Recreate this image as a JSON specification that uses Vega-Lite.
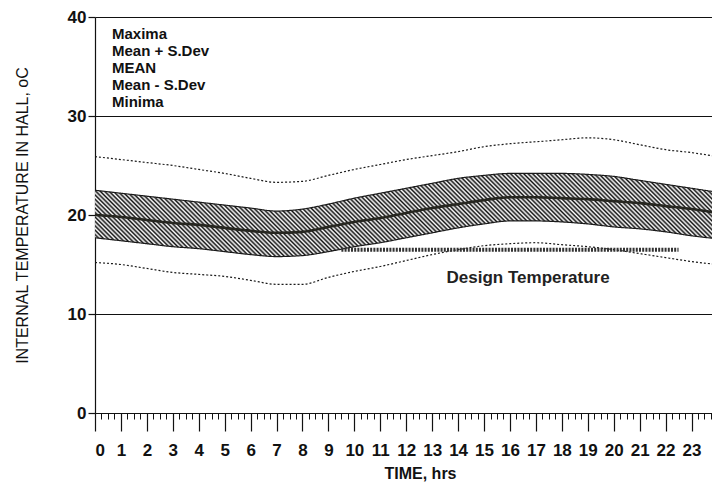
{
  "$schema": "https://vega.github.io/schema/vega-lite/v6.json",
  "width": 617,
  "height": 396,
  "autosize": {"type": "none"},
  "padding": {"left": 95, "top": 17, "right": 0, "bottom": 80},
  "background": "white",
  "config": {
    "font": "Liberation Sans",
    "view": {"stroke": null},
    "axis": {"domainColor": "#111", "tickColor": "#111", "labelColor": "#111", "titleColor": "#111"}
  },
  "datasets": {
    "temps": [
      {"hour": 0, "max": 25.9, "sdp": 22.5, "mean": 20.0, "sdm": 17.7, "min": 15.2},
      {"hour": 1, "max": 25.6, "sdp": 22.2, "mean": 19.8, "sdm": 17.4, "min": 15.0},
      {"hour": 2, "max": 25.3, "sdp": 21.9, "mean": 19.5, "sdm": 17.1, "min": 14.6},
      {"hour": 3, "max": 25.0, "sdp": 21.6, "mean": 19.2, "sdm": 16.8, "min": 14.2},
      {"hour": 4, "max": 24.6, "sdp": 21.3, "mean": 19.0, "sdm": 16.6, "min": 14.0},
      {"hour": 5, "max": 24.2, "sdp": 21.0, "mean": 18.7, "sdm": 16.3, "min": 13.8},
      {"hour": 6, "max": 23.7, "sdp": 20.7, "mean": 18.4, "sdm": 16.0, "min": 13.4},
      {"hour": 7, "max": 23.3, "sdp": 20.4, "mean": 18.2, "sdm": 15.8, "min": 13.0},
      {"hour": 8, "max": 23.4, "sdp": 20.6, "mean": 18.3, "sdm": 15.9, "min": 13.0},
      {"hour": 9, "max": 24.0, "sdp": 21.1, "mean": 18.8, "sdm": 16.3, "min": 13.7},
      {"hour": 10, "max": 24.6, "sdp": 21.7, "mean": 19.3, "sdm": 16.8, "min": 14.3},
      {"hour": 11, "max": 25.1, "sdp": 22.2, "mean": 19.7, "sdm": 17.2, "min": 14.8},
      {"hour": 12, "max": 25.6, "sdp": 22.7, "mean": 20.2, "sdm": 17.7, "min": 15.4},
      {"hour": 13, "max": 26.0, "sdp": 23.2, "mean": 20.7, "sdm": 18.2, "min": 16.0},
      {"hour": 14, "max": 26.4, "sdp": 23.7, "mean": 21.1, "sdm": 18.7, "min": 16.5},
      {"hour": 15, "max": 26.9, "sdp": 24.0, "mean": 21.5, "sdm": 19.1, "min": 16.9},
      {"hour": 16, "max": 27.2, "sdp": 24.2, "mean": 21.8, "sdm": 19.4, "min": 17.1},
      {"hour": 17, "max": 27.4, "sdp": 24.2, "mean": 21.8, "sdm": 19.4, "min": 17.2},
      {"hour": 18, "max": 27.6, "sdp": 24.2, "mean": 21.7, "sdm": 19.3, "min": 17.0},
      {"hour": 19, "max": 27.8, "sdp": 24.1, "mean": 21.6, "sdm": 19.1, "min": 16.8},
      {"hour": 20, "max": 27.6, "sdp": 23.9, "mean": 21.4, "sdm": 18.8, "min": 16.5},
      {"hour": 21, "max": 27.1, "sdp": 23.5, "mean": 21.2, "sdm": 18.6, "min": 16.1},
      {"hour": 22, "max": 26.6, "sdp": 23.1, "mean": 20.9, "sdm": 18.3, "min": 15.7},
      {"hour": 23, "max": 26.3, "sdp": 22.7, "mean": 20.6, "sdm": 17.9, "min": 15.3},
      {"hour": 24, "max": 25.9, "sdp": 22.3, "mean": 20.2, "sdm": 17.6, "min": 15.0}
    ],
    "design": [
      {"hour": 9.5, "temp": 16.5},
      {"hour": 22.5, "temp": 16.5}
    ]
  },
  "resolve": {"axis": {"x": "independent"}},
  "layer": [
    {
      "data": {"name": "temps"},
      "mark": {
        "type": "area", "clip": true, "interpolate": "monotone",
        "fill": {
          "gradient": "linear", "x1": 0, "y1": 1, "x2": 1.1137, "y2": 0.8512,
          "stops": [
            {"offset":0,"color":"#111"},{"offset":0.003125,"color":"#fff"},{"offset":0.00625,"color":"#111"},{"offset":0.009375,"color":"#fff"},{"offset":0.0125,"color":"#111"},{"offset":0.015625,"color":"#fff"},{"offset":0.01875,"color":"#111"},{"offset":0.021875,"color":"#fff"},{"offset":0.025,"color":"#111"},{"offset":0.028125,"color":"#fff"},{"offset":0.03125,"color":"#111"},{"offset":0.034375,"color":"#fff"},{"offset":0.0375,"color":"#111"},{"offset":0.040625,"color":"#fff"},{"offset":0.04375,"color":"#111"},{"offset":0.046875,"color":"#fff"},
            {"offset":0.05,"color":"#111"},{"offset":0.053125,"color":"#fff"},{"offset":0.05625,"color":"#111"},{"offset":0.059375,"color":"#fff"},{"offset":0.0625,"color":"#111"},{"offset":0.065625,"color":"#fff"},{"offset":0.06875,"color":"#111"},{"offset":0.071875,"color":"#fff"},{"offset":0.075,"color":"#111"},{"offset":0.078125,"color":"#fff"},{"offset":0.08125,"color":"#111"},{"offset":0.084375,"color":"#fff"},{"offset":0.0875,"color":"#111"},{"offset":0.090625,"color":"#fff"},{"offset":0.09375,"color":"#111"},{"offset":0.096875,"color":"#fff"},
            {"offset":0.1,"color":"#111"},{"offset":0.103125,"color":"#fff"},{"offset":0.10625,"color":"#111"},{"offset":0.109375,"color":"#fff"},{"offset":0.1125,"color":"#111"},{"offset":0.115625,"color":"#fff"},{"offset":0.11875,"color":"#111"},{"offset":0.121875,"color":"#fff"},{"offset":0.125,"color":"#111"},{"offset":0.128125,"color":"#fff"},{"offset":0.13125,"color":"#111"},{"offset":0.134375,"color":"#fff"},{"offset":0.1375,"color":"#111"},{"offset":0.140625,"color":"#fff"},{"offset":0.14375,"color":"#111"},{"offset":0.146875,"color":"#fff"},
            {"offset":0.15,"color":"#111"},{"offset":0.153125,"color":"#fff"},{"offset":0.15625,"color":"#111"},{"offset":0.159375,"color":"#fff"},{"offset":0.1625,"color":"#111"},{"offset":0.165625,"color":"#fff"},{"offset":0.16875,"color":"#111"},{"offset":0.171875,"color":"#fff"},{"offset":0.175,"color":"#111"},{"offset":0.178125,"color":"#fff"},{"offset":0.18125,"color":"#111"},{"offset":0.184375,"color":"#fff"},{"offset":0.1875,"color":"#111"},{"offset":0.190625,"color":"#fff"},{"offset":0.19375,"color":"#111"},{"offset":0.196875,"color":"#fff"},
            {"offset":0.2,"color":"#111"},{"offset":0.203125,"color":"#fff"},{"offset":0.20625,"color":"#111"},{"offset":0.209375,"color":"#fff"},{"offset":0.2125,"color":"#111"},{"offset":0.215625,"color":"#fff"},{"offset":0.21875,"color":"#111"},{"offset":0.221875,"color":"#fff"},{"offset":0.225,"color":"#111"},{"offset":0.228125,"color":"#fff"},{"offset":0.23125,"color":"#111"},{"offset":0.234375,"color":"#fff"},{"offset":0.2375,"color":"#111"},{"offset":0.240625,"color":"#fff"},{"offset":0.24375,"color":"#111"},{"offset":0.246875,"color":"#fff"},
            {"offset":0.25,"color":"#111"},{"offset":0.253125,"color":"#fff"},{"offset":0.25625,"color":"#111"},{"offset":0.259375,"color":"#fff"},{"offset":0.2625,"color":"#111"},{"offset":0.265625,"color":"#fff"},{"offset":0.26875,"color":"#111"},{"offset":0.271875,"color":"#fff"},{"offset":0.275,"color":"#111"},{"offset":0.278125,"color":"#fff"},{"offset":0.28125,"color":"#111"},{"offset":0.284375,"color":"#fff"},{"offset":0.2875,"color":"#111"},{"offset":0.290625,"color":"#fff"},{"offset":0.29375,"color":"#111"},{"offset":0.296875,"color":"#fff"},
            {"offset":0.3,"color":"#111"},{"offset":0.303125,"color":"#fff"},{"offset":0.30625,"color":"#111"},{"offset":0.309375,"color":"#fff"},{"offset":0.3125,"color":"#111"},{"offset":0.315625,"color":"#fff"},{"offset":0.31875,"color":"#111"},{"offset":0.321875,"color":"#fff"},{"offset":0.325,"color":"#111"},{"offset":0.328125,"color":"#fff"},{"offset":0.33125,"color":"#111"},{"offset":0.334375,"color":"#fff"},{"offset":0.3375,"color":"#111"},{"offset":0.340625,"color":"#fff"},{"offset":0.34375,"color":"#111"},{"offset":0.346875,"color":"#fff"},
            {"offset":0.35,"color":"#111"},{"offset":0.353125,"color":"#fff"},{"offset":0.35625,"color":"#111"},{"offset":0.359375,"color":"#fff"},{"offset":0.3625,"color":"#111"},{"offset":0.365625,"color":"#fff"},{"offset":0.36875,"color":"#111"},{"offset":0.371875,"color":"#fff"},{"offset":0.375,"color":"#111"},{"offset":0.378125,"color":"#fff"},{"offset":0.38125,"color":"#111"},{"offset":0.384375,"color":"#fff"},{"offset":0.3875,"color":"#111"},{"offset":0.390625,"color":"#fff"},{"offset":0.39375,"color":"#111"},{"offset":0.396875,"color":"#fff"},
            {"offset":0.4,"color":"#111"},{"offset":0.403125,"color":"#fff"},{"offset":0.40625,"color":"#111"},{"offset":0.409375,"color":"#fff"},{"offset":0.4125,"color":"#111"},{"offset":0.415625,"color":"#fff"},{"offset":0.41875,"color":"#111"},{"offset":0.421875,"color":"#fff"},{"offset":0.425,"color":"#111"},{"offset":0.428125,"color":"#fff"},{"offset":0.43125,"color":"#111"},{"offset":0.434375,"color":"#fff"},{"offset":0.4375,"color":"#111"},{"offset":0.440625,"color":"#fff"},{"offset":0.44375,"color":"#111"},{"offset":0.446875,"color":"#fff"},
            {"offset":0.45,"color":"#111"},{"offset":0.453125,"color":"#fff"},{"offset":0.45625,"color":"#111"},{"offset":0.459375,"color":"#fff"},{"offset":0.4625,"color":"#111"},{"offset":0.465625,"color":"#fff"},{"offset":0.46875,"color":"#111"},{"offset":0.471875,"color":"#fff"},{"offset":0.475,"color":"#111"},{"offset":0.478125,"color":"#fff"},{"offset":0.48125,"color":"#111"},{"offset":0.484375,"color":"#fff"},{"offset":0.4875,"color":"#111"},{"offset":0.490625,"color":"#fff"},{"offset":0.49375,"color":"#111"},{"offset":0.496875,"color":"#fff"},
            {"offset":0.5,"color":"#111"},{"offset":0.503125,"color":"#fff"},{"offset":0.50625,"color":"#111"},{"offset":0.509375,"color":"#fff"},{"offset":0.5125,"color":"#111"},{"offset":0.515625,"color":"#fff"},{"offset":0.51875,"color":"#111"},{"offset":0.521875,"color":"#fff"},{"offset":0.525,"color":"#111"},{"offset":0.528125,"color":"#fff"},{"offset":0.53125,"color":"#111"},{"offset":0.534375,"color":"#fff"},{"offset":0.5375,"color":"#111"},{"offset":0.540625,"color":"#fff"},{"offset":0.54375,"color":"#111"},{"offset":0.546875,"color":"#fff"},
            {"offset":0.55,"color":"#111"},{"offset":0.553125,"color":"#fff"},{"offset":0.55625,"color":"#111"},{"offset":0.559375,"color":"#fff"},{"offset":0.5625,"color":"#111"},{"offset":0.565625,"color":"#fff"},{"offset":0.56875,"color":"#111"},{"offset":0.571875,"color":"#fff"},{"offset":0.575,"color":"#111"},{"offset":0.578125,"color":"#fff"},{"offset":0.58125,"color":"#111"},{"offset":0.584375,"color":"#fff"},{"offset":0.5875,"color":"#111"},{"offset":0.590625,"color":"#fff"},{"offset":0.59375,"color":"#111"},{"offset":0.596875,"color":"#fff"},
            {"offset":0.6,"color":"#111"},{"offset":0.603125,"color":"#fff"},{"offset":0.60625,"color":"#111"},{"offset":0.609375,"color":"#fff"},{"offset":0.6125,"color":"#111"},{"offset":0.615625,"color":"#fff"},{"offset":0.61875,"color":"#111"},{"offset":0.621875,"color":"#fff"},{"offset":0.625,"color":"#111"},{"offset":0.628125,"color":"#fff"},{"offset":0.63125,"color":"#111"},{"offset":0.634375,"color":"#fff"},{"offset":0.6375,"color":"#111"},{"offset":0.640625,"color":"#fff"},{"offset":0.64375,"color":"#111"},{"offset":0.646875,"color":"#fff"},
            {"offset":0.65,"color":"#111"},{"offset":0.653125,"color":"#fff"},{"offset":0.65625,"color":"#111"},{"offset":0.659375,"color":"#fff"},{"offset":0.6625,"color":"#111"},{"offset":0.665625,"color":"#fff"},{"offset":0.66875,"color":"#111"},{"offset":0.671875,"color":"#fff"},{"offset":0.675,"color":"#111"},{"offset":0.678125,"color":"#fff"},{"offset":0.68125,"color":"#111"},{"offset":0.684375,"color":"#fff"},{"offset":0.6875,"color":"#111"},{"offset":0.690625,"color":"#fff"},{"offset":0.69375,"color":"#111"},{"offset":0.696875,"color":"#fff"},
            {"offset":0.7,"color":"#111"},{"offset":0.703125,"color":"#fff"},{"offset":0.70625,"color":"#111"},{"offset":0.709375,"color":"#fff"},{"offset":0.7125,"color":"#111"},{"offset":0.715625,"color":"#fff"},{"offset":0.71875,"color":"#111"},{"offset":0.721875,"color":"#fff"},{"offset":0.725,"color":"#111"},{"offset":0.728125,"color":"#fff"},{"offset":0.73125,"color":"#111"},{"offset":0.734375,"color":"#fff"},{"offset":0.7375,"color":"#111"},{"offset":0.740625,"color":"#fff"},{"offset":0.74375,"color":"#111"},{"offset":0.746875,"color":"#fff"},
            {"offset":0.75,"color":"#111"},{"offset":0.753125,"color":"#fff"},{"offset":0.75625,"color":"#111"},{"offset":0.759375,"color":"#fff"},{"offset":0.7625,"color":"#111"},{"offset":0.765625,"color":"#fff"},{"offset":0.76875,"color":"#111"},{"offset":0.771875,"color":"#fff"},{"offset":0.775,"color":"#111"},{"offset":0.778125,"color":"#fff"},{"offset":0.78125,"color":"#111"},{"offset":0.784375,"color":"#fff"},{"offset":0.7875,"color":"#111"},{"offset":0.790625,"color":"#fff"},{"offset":0.79375,"color":"#111"},{"offset":0.796875,"color":"#fff"},
            {"offset":0.8,"color":"#111"},{"offset":0.803125,"color":"#fff"},{"offset":0.80625,"color":"#111"},{"offset":0.809375,"color":"#fff"},{"offset":0.8125,"color":"#111"},{"offset":0.815625,"color":"#fff"},{"offset":0.81875,"color":"#111"},{"offset":0.821875,"color":"#fff"},{"offset":0.825,"color":"#111"},{"offset":0.828125,"color":"#fff"},{"offset":0.83125,"color":"#111"},{"offset":0.834375,"color":"#fff"},{"offset":0.8375,"color":"#111"},{"offset":0.840625,"color":"#fff"},{"offset":0.84375,"color":"#111"},{"offset":0.846875,"color":"#fff"},
            {"offset":0.85,"color":"#111"},{"offset":0.853125,"color":"#fff"},{"offset":0.85625,"color":"#111"},{"offset":0.859375,"color":"#fff"},{"offset":0.8625,"color":"#111"},{"offset":0.865625,"color":"#fff"},{"offset":0.86875,"color":"#111"},{"offset":0.871875,"color":"#fff"},{"offset":0.875,"color":"#111"},{"offset":0.878125,"color":"#fff"},{"offset":0.88125,"color":"#111"},{"offset":0.884375,"color":"#fff"},{"offset":0.8875,"color":"#111"},{"offset":0.890625,"color":"#fff"},{"offset":0.89375,"color":"#111"},{"offset":0.896875,"color":"#fff"},
            {"offset":0.9,"color":"#111"},{"offset":0.903125,"color":"#fff"},{"offset":0.90625,"color":"#111"},{"offset":0.909375,"color":"#fff"},{"offset":0.9125,"color":"#111"},{"offset":0.915625,"color":"#fff"},{"offset":0.91875,"color":"#111"},{"offset":0.921875,"color":"#fff"},{"offset":0.925,"color":"#111"},{"offset":0.928125,"color":"#fff"},{"offset":0.93125,"color":"#111"},{"offset":0.934375,"color":"#fff"},{"offset":0.9375,"color":"#111"},{"offset":0.940625,"color":"#fff"},{"offset":0.94375,"color":"#111"},{"offset":0.946875,"color":"#fff"},
            {"offset":0.95,"color":"#111"},{"offset":0.953125,"color":"#fff"},{"offset":0.95625,"color":"#111"},{"offset":0.959375,"color":"#fff"},{"offset":0.9625,"color":"#111"},{"offset":0.965625,"color":"#fff"},{"offset":0.96875,"color":"#111"},{"offset":0.971875,"color":"#fff"},{"offset":0.975,"color":"#111"},{"offset":0.978125,"color":"#fff"},{"offset":0.98125,"color":"#111"},{"offset":0.984375,"color":"#fff"},{"offset":0.9875,"color":"#111"},{"offset":0.990625,"color":"#fff"},{"offset":0.99375,"color":"#111"},{"offset":0.996875,"color":"#fff"},
            {"offset":1,"color":"#111"}
          ]
        }
      },
      "encoding": {
        "x": {
          "field": "hour", "type": "quantitative",
          "scale": {"domain": [0, 23.79], "nice": false, "zero": false},
          "axis": {
            "orient": "bottom",
            "values": [0,1,2,3,4,5,6,7,8,9,10,11,12,13,14,15,16,17,18,19,20,21,22,23],
            "tickSize": 18, "tickWidth": 1.2,
            "labelFontSize": 17, "labelFontWeight": "bold", "labelPadding": 11,
            "domainWidth": 1.2, "grid": false,
            "title": "TIME, hrs", "titleFontSize": 16, "titleFontWeight": "bold",
            "titlePadding": 7, "titleX": 325
          }
        },
        "y": {
          "field": "sdm", "type": "quantitative",
          "scale": {"domain": [0, 40], "nice": false},
          "axis": {
            "values": [0, 10, 20, 30, 40],
            "tickSize": 7, "tickWidth": 1.2,
            "labelFontSize": 17, "labelFontWeight": "bold", "labelPadding": 2,
            "domainWidth": 1.2,
            "grid": true, "gridColor": "#111", "gridWidth": 1, "gridOpacity": 1,
            "title": "INTERNAL TEMPERATURE IN HALL, oC", "titleFontSize": 16, "titleFontWeight": "normal",
            "titlePadding": 37
          }
        },
        "y2": {"field": "sdp"}
      }
    },
    {
      "data": {"name": "temps"},
      "transform": [{"fold": ["max", "sdp", "mean", "sdm", "min"], "as": ["series", "temp"]}],
      "mark": {"type": "line", "clip": true, "color": "#1a1a1a", "strokeWidth": 1.2, "interpolate": "monotone"},
      "encoding": {
        "x": {
          "field": "hour", "type": "quantitative",
          "axis": {
            "orient": "bottom",
            "values": [0,0.25,0.5,0.75,1,1.25,1.5,1.75,2,2.25,2.5,2.75,3,3.25,3.5,3.75,4,4.25,4.5,4.75,5,5.25,5.5,5.75,6,6.25,6.5,6.75,7,7.25,7.5,7.75,8,8.25,8.5,8.75,9,9.25,9.5,9.75,10,10.25,10.5,10.75,11,11.25,11.5,11.75,12,12.25,12.5,12.75,13,13.25,13.5,13.75,14,14.25,14.5,14.75,15,15.25,15.5,15.75,16,16.25,16.5,16.75,17,17.25,17.5,17.75,18,18.25,18.5,18.75,19,19.25,19.5,19.75,20,20.25,20.5,20.75,21,21.25,21.5,21.75,22,22.25,22.5,22.75,23,23.25,23.5,23.75],
            "tickSize": 6, "tickWidth": 1, "labels": false, "domain": false, "grid": false, "title": null
          }
        },
        "y": {"field": "temp", "type": "quantitative", "title": "INTERNAL TEMPERATURE IN HALL, oC"},
        "detail": {"field": "series"},
        "strokeDash": {
          "field": "series", "type": "nominal",
          "scale": {"domain": ["max", "sdp", "mean", "sdm", "min"], "range": [[2, 2], [1, 0], [1, 0], [1, 0], [2, 2]]},
          "legend": {
            "orient": "none", "legendX": 2, "legendY": 9,
            "title": null,
            "labelExpr": "{'max': 'Maxima', 'sdp': 'Mean + S.Dev', 'mean': 'MEAN', 'sdm': 'Mean - S.Dev', 'min': 'Minima'}[datum.value]",
            "labelFontSize": 15, "labelFontWeight": "bold", "labelColor": "#111",
            "symbolOpacity": 0, "symbolSize": 0, "symbolStrokeWidth": 0, "symbolType": "stroke",
            "labelOffset": 0, "rowPadding": 1, "padding": 0
          }
        }
      }
    },
    {
      "data": {"name": "temps"},
      "mark": {"type": "line", "clip": true, "color": "#262620", "strokeWidth": 2.6, "interpolate": "monotone"},
      "encoding": {
        "x": {"field": "hour", "type": "quantitative", "axis": null},
        "y": {"field": "mean", "type": "quantitative", "title": "INTERNAL TEMPERATURE IN HALL, oC"}
      }
    },
    {
      "data": {"name": "design"},
      "mark": {"type": "line", "color": "#333", "strokeWidth": 4, "strokeDash": [2, 1.2], "strokeCap": "butt"},
      "encoding": {
        "x": {"field": "hour", "type": "quantitative", "axis": null},
        "y": {"field": "temp", "type": "quantitative", "title": "INTERNAL TEMPERATURE IN HALL, oC"}
      }
    },
    {
      "data": {"values": [{"label": "Design Temperature"}]},
      "mark": {"type": "text", "fontSize": 17, "fontWeight": "bold", "color": "#222", "align": "center", "baseline": "middle"},
      "encoding": {
        "text": {"field": "label"},
        "x": {"datum": 16.7, "type": "quantitative", "axis": null},
        "y": {"datum": 13.6, "type": "quantitative", "title": "INTERNAL TEMPERATURE IN HALL, oC"}
      }
    }
  ]
}
